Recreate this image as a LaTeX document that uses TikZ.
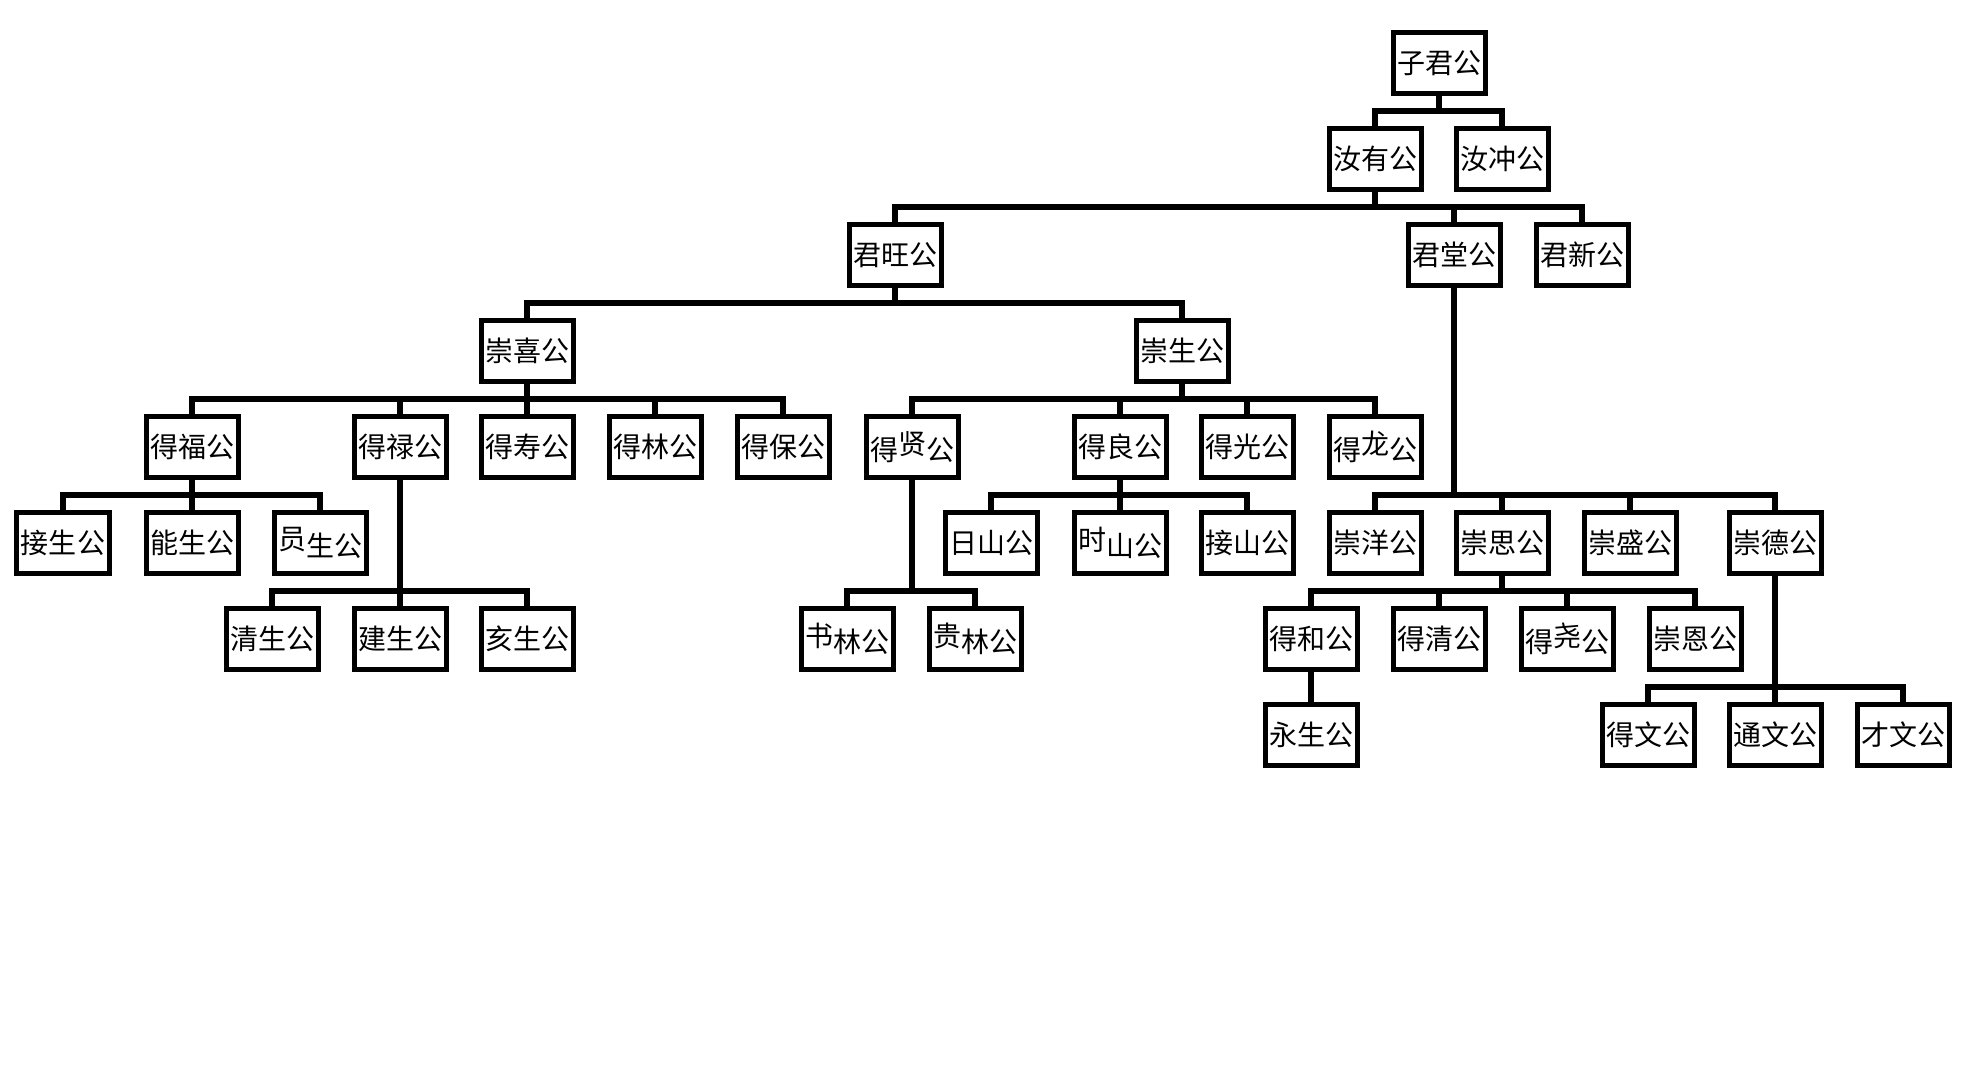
\documentclass[tikz,border=0pt]{standalone}
\usepackage{fontspec}
\newfontfamily\cjk{Noto Sans CJK SC}
\usetikzlibrary{calc}
\newcommand\up[1]{\raisebox{2.6pt}{#1}}
\newcommand\tfam[4]{% parent, first child, last child, all children
  \coordinate (bus) at ($(#2.north)+(0,-15)$);
  \draw[conn] (#1.south) -- (#1.south |- bus);
  \draw[conn] (#2.north) |- (#3.north |- bus) -- (#3.north);
  \foreach \c in {#4} {\draw[conn] (\c.north) -- (\c.north |- bus);}
}
\begin{document}
\begin{tikzpicture}[x=0.4pt,y=-0.4pt,
  pbox/.style={draw,line width=2pt,minimum width=36.8pt,minimum height=24.4pt,
    inner sep=0pt,font=\cjk\fontsize{11.2}{13}\selectfont,fill=white},
  conn/.style={line width=2.4pt}]
\useasboundingbox (0,0) rectangle (1984,1080);
\fill[white] (0,0) rectangle (1984,1080);
% row 0
\node[pbox] (n0) at (1439,63) {子君公};
% row 1
\node[pbox] (ny) at (1375,159) {汝有公};
\node[pbox] (nc) at (1502,159) {汝冲公};
% row 2
\node[pbox] (jw) at (895,255) {君旺公};
\node[pbox] (jt) at (1454,255) {君堂公};
\node[pbox] (jx) at (1582,255) {君新公};
% row 3
\node[pbox] (cx) at (527,351) {崇喜公};
\node[pbox] (cs) at (1182,351) {崇生公};
% row 4
\node[pbox] (df) at (192,447) {得福公};
\node[pbox] (dl) at (400,447) {得禄公};
\node[pbox] (dsh) at (527,447) {得寿公};
\node[pbox] (dlin) at (655,447) {得林公};
\node[pbox] (db) at (783,447) {得保公};
\node[pbox] (dx) at (912,447) {得\up{贤}公};
\node[pbox] (dli) at (1120,447) {得良公};
\node[pbox] (dg) at (1247,447) {得光公};
\node[pbox] (dlo) at (1375,447) {得\up{龙}公};
% row 5
\node[pbox] (js) at (63,543) {接生公};
\node[pbox] (ns) at (192,543) {能生公};
\node[pbox] (ys) at (320,543) {\up{员}生公};
\node[pbox] (rs) at (991,543) {日山公};
\node[pbox] (ss) at (1120,543) {\up{时}山公};
\node[pbox] (jsh) at (1247,543) {接山公};
\node[pbox] (cy) at (1375,543) {崇洋公};
\node[pbox] (csi) at (1502,543) {崇思公};
\node[pbox] (csh) at (1630,543) {崇盛公};
\node[pbox] (cd) at (1775,543) {崇德公};
% row 6
\node[pbox] (qs) at (272,639) {清生公};
\node[pbox] (jian) at (400,639) {建生公};
\node[pbox] (hs) at (527,639) {亥生公};
\node[pbox] (sl) at (847,639) {\up{书}林公};
\node[pbox] (gl) at (975,639) {\up{贵}林公};
\node[pbox] (dh) at (1311,639) {得和公};
\node[pbox] (dq) at (1439,639) {得清公};
\node[pbox] (dy) at (1567,639) {得\up{尧}公};
\node[pbox] (ce) at (1695,639) {崇恩公};
% row 7
\node[pbox] (yo) at (1311,735) {永生公};
\node[pbox] (dw) at (1648,735) {得文公};
\node[pbox] (tw) at (1775,735) {通文公};
\node[pbox] (cw) at (1903,735) {才文公};
% connectors
\tfam{n0}{ny}{nc}{}
\tfam{ny}{jw}{jx}{jt}
\tfam{jw}{cx}{cs}{}
\tfam{cx}{df}{db}{dl,dsh,dlin}
\tfam{cs}{dx}{dlo}{dli,dg}
\tfam{df}{js}{ys}{ns}
\tfam{dl}{qs}{hs}{jian}
\tfam{dli}{rs}{jsh}{ss}
\tfam{dx}{sl}{gl}{}
\tfam{jt}{cy}{cd}{csi,csh}
\tfam{csi}{dh}{ce}{dq,dy}
\draw[conn] (dh.south) -- (yo.north);
\tfam{cd}{dw}{cw}{tw}
\end{tikzpicture}
\end{document}
